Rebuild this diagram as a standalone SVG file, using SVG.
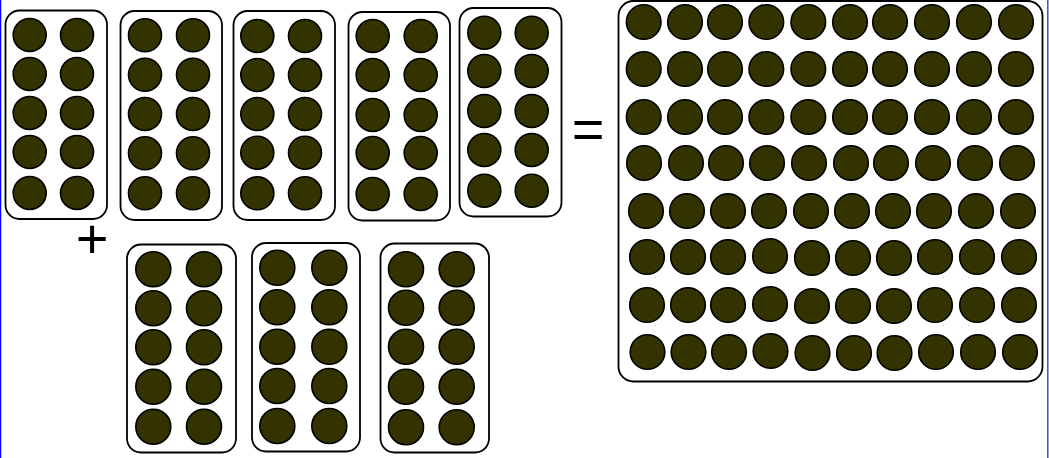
<svg xmlns="http://www.w3.org/2000/svg" width="1049" height="458" viewBox="0 0 1049 458">
<style>
.b{fill:#fff;stroke:#000;stroke-width:1.8}
.d{fill:#333300;stroke:#000;stroke-width:1.6}
.s circle{r:16.5}
.m circle{r:17.5}
.g circle{r:17.3}
.t{font-family:"Liberation Sans",Arial,sans-serif;font-size:56px;fill:#000;text-anchor:middle}
</style>
<rect x="0" y="0" width="1049" height="458" fill="#fff"/>
<line x1="0.5" y1="0" x2="0.5" y2="458" stroke="#0000ff" stroke-width="1.5"/>
<line x1="1047.8" y1="0" x2="1047.8" y2="458" stroke="#4444ee" stroke-width="1.5"/>
<g id="box1" class="s">
<rect class="b" x="5.5" y="10.5" width="101.5" height="208.5" rx="14"/>
<circle class="d" cx="29.7" cy="35"/><circle class="d" cx="77" cy="35"/>
<circle class="d" cx="29.7" cy="74"/><circle class="d" cx="77" cy="74"/>
<circle class="d" cx="29.7" cy="113"/><circle class="d" cx="77" cy="113"/>
<circle class="d" cx="29.7" cy="152"/><circle class="d" cx="77" cy="152"/>
<circle class="d" cx="29.7" cy="193"/><circle class="d" cx="77" cy="193"/>
</g>
<g id="box2" class="s">
<rect class="b" x="120.5" y="11" width="101.5" height="209" rx="14"/>
<circle class="d" cx="145" cy="35.3"/><circle class="d" cx="193" cy="35.3"/>
<circle class="d" cx="145" cy="74.7"/><circle class="d" cx="193" cy="74.7"/>
<circle class="d" cx="145" cy="114"/><circle class="d" cx="193" cy="114"/>
<circle class="d" cx="145" cy="153.3"/><circle class="d" cx="193" cy="153.3"/>
<circle class="d" cx="145" cy="193.3"/><circle class="d" cx="193" cy="193.3"/>
</g>
<g id="box3" class="s">
<rect class="b" x="233.5" y="11" width="101.5" height="209" rx="14"/>
<circle class="d" cx="257.3" cy="36"/><circle class="d" cx="305" cy="36"/>
<circle class="d" cx="257.3" cy="75"/><circle class="d" cx="305" cy="75"/>
<circle class="d" cx="257.3" cy="114"/><circle class="d" cx="305" cy="114"/>
<circle class="d" cx="257.3" cy="152.7"/><circle class="d" cx="305" cy="152.7"/>
<circle class="d" cx="257.3" cy="193.3"/><circle class="d" cx="305" cy="193.3"/>
</g>
<g id="box4" class="s">
<rect class="b" x="348.5" y="12" width="101.5" height="208.5" rx="14"/>
<circle class="d" cx="372.7" cy="36"/><circle class="d" cx="420.7" cy="36"/>
<circle class="d" cx="372.7" cy="75"/><circle class="d" cx="420.7" cy="75"/>
<circle class="d" cx="372.7" cy="115"/><circle class="d" cx="420.7" cy="115"/>
<circle class="d" cx="372.7" cy="153"/><circle class="d" cx="420.7" cy="153"/>
<circle class="d" cx="372.7" cy="194"/><circle class="d" cx="420.7" cy="194"/>
</g>
<g id="box5" class="s">
<rect class="b" x="459.5" y="8" width="102" height="208.5" rx="14"/>
<circle class="d" cx="484.3" cy="32.7"/><circle class="d" cx="531.7" cy="32.7"/>
<circle class="d" cx="484.3" cy="71"/><circle class="d" cx="531.7" cy="71"/>
<circle class="d" cx="484.3" cy="111"/><circle class="d" cx="531.7" cy="111"/>
<circle class="d" cx="484.3" cy="150"/><circle class="d" cx="531.7" cy="150"/>
<circle class="d" cx="484.3" cy="190.7"/><circle class="d" cx="531.7" cy="190.7"/>
</g>
<g id="box6" class="m">
<rect class="b" x="127" y="244.5" width="109" height="208" rx="14"/>
<circle class="d" cx="153.3" cy="269.3"/><circle class="d" cx="204" cy="269.3"/>
<circle class="d" cx="153.3" cy="308.3"/><circle class="d" cx="204" cy="308.3"/>
<circle class="d" cx="153.3" cy="347.3"/><circle class="d" cx="204" cy="347.3"/>
<circle class="d" cx="153.3" cy="386.7"/><circle class="d" cx="204" cy="386.7"/>
<circle class="d" cx="153.3" cy="426.7"/><circle class="d" cx="204" cy="426.7"/>
</g>
<g id="box7" class="m">
<rect class="b" x="252" y="243" width="108" height="208.5" rx="14"/>
<circle class="d" cx="277.3" cy="267.7"/><circle class="d" cx="329.3" cy="267.7"/>
<circle class="d" cx="277.3" cy="307.3"/><circle class="d" cx="329.3" cy="307.3"/>
<circle class="d" cx="277.3" cy="346.7"/><circle class="d" cx="329.3" cy="346.7"/>
<circle class="d" cx="277.3" cy="386"/><circle class="d" cx="329.3" cy="386"/>
<circle class="d" cx="277.3" cy="426"/><circle class="d" cx="329.3" cy="426"/>
</g>
<g id="box8" class="m">
<rect class="b" x="380.5" y="243.5" width="108.5" height="209" rx="14"/>
<circle class="d" cx="406" cy="269.3"/><circle class="d" cx="456.7" cy="269.3"/>
<circle class="d" cx="406" cy="307.7"/><circle class="d" cx="456.7" cy="307.7"/>
<circle class="d" cx="406" cy="346.7"/><circle class="d" cx="456.7" cy="346.7"/>
<circle class="d" cx="406" cy="386.7"/><circle class="d" cx="456.7" cy="386.7"/>
<circle class="d" cx="406" cy="427.3"/><circle class="d" cx="456.7" cy="427.3"/>
</g>
<g id="plus"><text class="t" x="92" y="258">+</text></g>
<g id="equals"><text class="t" x="588" y="148">=</text></g>
<g id="hundred" class="g">
<rect class="b" x="618.5" y="1" width="424" height="380.5" rx="15"/>
<g id="row1">
<circle class="d" cx="643.7" cy="22"/><circle class="d" cx="685" cy="22"/><circle class="d" cx="725" cy="22"/><circle class="d" cx="766.3" cy="22"/><circle class="d" cx="808.3" cy="22"/><circle class="d" cx="850" cy="22"/><circle class="d" cx="890" cy="22"/><circle class="d" cx="932" cy="22"/><circle class="d" cx="974" cy="22"/><circle class="d" cx="1016" cy="22"/>
</g>
<g id="row2">
<circle class="d" cx="643.7" cy="69"/><circle class="d" cx="685" cy="69"/><circle class="d" cx="725" cy="69"/><circle class="d" cx="766.3" cy="69"/><circle class="d" cx="808.3" cy="69"/><circle class="d" cx="850" cy="69"/><circle class="d" cx="890" cy="69"/><circle class="d" cx="932" cy="69"/><circle class="d" cx="974" cy="69"/><circle class="d" cx="1016" cy="69"/>
</g>
<g id="row3">
<circle class="d" cx="643.7" cy="117"/><circle class="d" cx="685" cy="117"/><circle class="d" cx="725" cy="117"/><circle class="d" cx="766.3" cy="117"/><circle class="d" cx="808.3" cy="117"/><circle class="d" cx="850" cy="117"/><circle class="d" cx="890" cy="117"/><circle class="d" cx="932" cy="117"/><circle class="d" cx="974" cy="117"/><circle class="d" cx="1016" cy="117"/>
</g>
<g id="row4">
<circle class="d" cx="644" cy="163"/><circle class="d" cx="686" cy="163"/><circle class="d" cx="726" cy="163"/><circle class="d" cx="767" cy="163"/><circle class="d" cx="809" cy="163"/><circle class="d" cx="851" cy="163"/><circle class="d" cx="891" cy="163"/><circle class="d" cx="933" cy="163"/><circle class="d" cx="975" cy="163"/><circle class="d" cx="1017" cy="163"/>
</g>
<g id="row5">
<circle class="d" cx="646" cy="211"/><circle class="d" cx="687" cy="211"/><circle class="d" cx="728" cy="211"/><circle class="d" cx="769" cy="211"/><circle class="d" cx="811" cy="211"/><circle class="d" cx="852" cy="211"/><circle class="d" cx="893" cy="211"/><circle class="d" cx="934" cy="211"/><circle class="d" cx="976" cy="211"/><circle class="d" cx="1018" cy="211"/>
</g>
<g id="row6">
<circle class="d" cx="647" cy="257"/><circle class="d" cx="688" cy="257"/><circle class="d" cx="728" cy="257"/><circle class="d" cx="770" cy="256"/><circle class="d" cx="812" cy="258"/><circle class="d" cx="853" cy="258"/><circle class="d" cx="894" cy="258"/><circle class="d" cx="935" cy="257"/><circle class="d" cx="977" cy="257"/><circle class="d" cx="1019" cy="257"/>
</g>
<g id="row7">
<circle class="d" cx="647" cy="305"/><circle class="d" cx="688" cy="305"/><circle class="d" cx="728" cy="305"/><circle class="d" cx="770" cy="304"/><circle class="d" cx="812" cy="306"/><circle class="d" cx="853" cy="306"/><circle class="d" cx="894" cy="306"/><circle class="d" cx="935" cy="305"/><circle class="d" cx="977" cy="305"/><circle class="d" cx="1019" cy="305"/>
</g>
<g id="row8">
<circle class="d" cx="647.5" cy="352"/><circle class="d" cx="688.5" cy="352"/><circle class="d" cx="729" cy="352"/><circle class="d" cx="770.5" cy="351"/><circle class="d" cx="812.5" cy="353"/><circle class="d" cx="854" cy="353"/><circle class="d" cx="894.5" cy="353"/><circle class="d" cx="936" cy="352"/><circle class="d" cx="978" cy="352"/><circle class="d" cx="1020" cy="352"/>
</g>
</g>
</svg>
